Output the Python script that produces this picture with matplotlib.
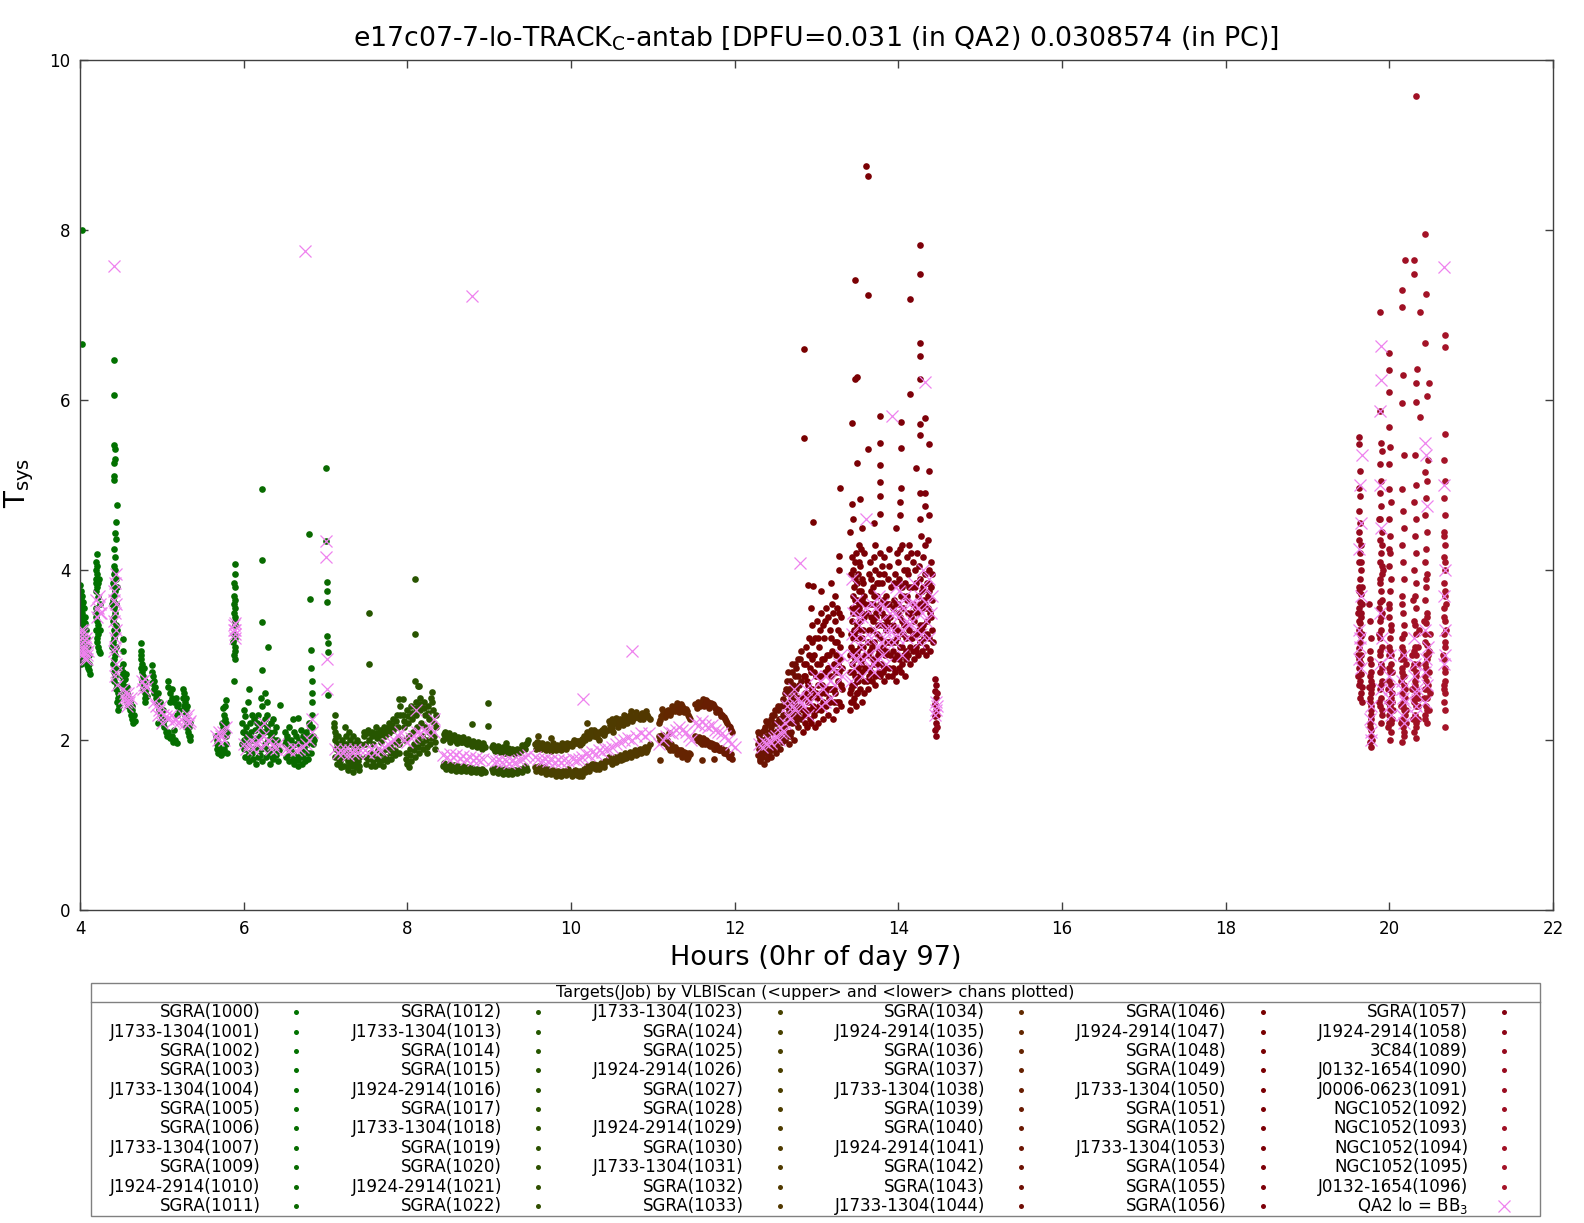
import numpy as np
import matplotlib
matplotlib.use("Agg")
import matplotlib.pyplot as plt
from matplotlib.lines import Line2D
from matplotlib.patches import Rectangle

# ---------------- data (hours, Tsys) ----------------
scan_labels = [
    "SGRA(1000)", "J1733-1304(1001)", "SGRA(1002)", "SGRA(1003)", "J1733-1304(1004)", "SGRA(1005)",
    "SGRA(1006)", "J1733-1304(1007)", "SGRA(1009)", "J1924-2914(1010)", "SGRA(1011)",
    "SGRA(1012)", "J1733-1304(1013)", "SGRA(1014)", "SGRA(1015)", "J1924-2914(1016)", "SGRA(1017)",
    "J1733-1304(1018)", "SGRA(1019)", "SGRA(1020)", "J1924-2914(1021)", "SGRA(1022)",
    "J1733-1304(1023)", "SGRA(1024)", "SGRA(1025)", "J1924-2914(1026)", "SGRA(1027)", "SGRA(1028)",
    "J1924-2914(1029)", "SGRA(1030)", "J1733-1304(1031)", "SGRA(1032)", "SGRA(1033)",
    "SGRA(1034)", "J1924-2914(1035)", "SGRA(1036)", "SGRA(1037)", "J1733-1304(1038)", "SGRA(1039)",
    "SGRA(1040)", "J1924-2914(1041)", "SGRA(1042)", "SGRA(1043)", "J1733-1304(1044)",
    "SGRA(1046)", "J1924-2914(1047)", "SGRA(1048)", "SGRA(1049)", "J1733-1304(1050)", "SGRA(1051)",
    "SGRA(1052)", "J1733-1304(1053)", "SGRA(1054)", "SGRA(1055)", "SGRA(1056)",
    "SGRA(1057)", "J1924-2914(1058)", "3C84(1089)", "J0132-1654(1090)", "J0006-0623(1091)",
    "NGC1052(1092)", "NGC1052(1093)", "NGC1052(1094)", "NGC1052(1095)", "J0132-1654(1096)",
]
qa2_label = "QA2 lo = BB$_3$"

scan_start = [
    4.00, 4.16, 4.34, 4.49, 4.70, 4.86, 5.24, 5.83, 5.95, 6.46, 6.95,
    7.08, 7.27, 7.45, 7.70, 7.93, 8.16, 8.40, 8.68, 9.00, 9.25, 9.52,
    9.53, 9.65, 9.78, 9.92, 10.05, 10.18, 10.30, 10.43, 10.57, 10.70, 10.85,
    11.00, 11.15, 11.30, 11.47, 11.62, 11.78, 11.92, 12.25, 12.45, 12.60, 12.72,
    12.82, 12.98, 13.12, 13.35, 13.50, 13.62, 13.76, 13.90, 14.03, 14.15, 14.28,
    14.43, 14.47, 19.50, 19.72, 19.84, 19.95, 20.10, 20.25, 20.40, 20.60,
]

pc_early = [
    (4.005,3.82),(4.01,3.75),(4.01,3.65),(4.015,3.55),(4.02,3.70),(4.02,3.45),(4.025,3.60),(4.03,3.50),
    (4.03,3.35),(4.035,3.62),(4.04,3.40),(4.04,3.25),(4.045,3.55),(4.05,3.30),(4.05,3.15),(4.055,3.45),
    (4.06,3.20),(4.06,3.05),(4.065,3.38),(4.07,3.10),(4.07,2.98),(4.075,3.30),(4.08,3.00),(4.085,2.92),
    (4.09,3.20),(4.09,2.88),(4.095,3.10),(4.10,2.85),(4.105,3.00),(4.11,2.82),(4.115,2.90),(4.12,2.78),
    (4.005,2.95),(4.01,3.05),(4.005,3.12),(4.015,2.90),(4.02,3.00),(4.02,8.00),(4.02,6.66),
    (4.21,4.19),(4.20,4.10),(4.21,4.05),(4.20,4.00),(4.21,3.95),(4.20,3.90),(4.22,3.85),(4.21,3.80),
    (4.20,3.75),(4.22,3.68),(4.19,3.50),(4.20,3.45),(4.21,3.40),(4.22,3.35),(4.20,3.30),(4.21,3.20),
    (4.22,3.25),(4.21,3.15),(4.22,3.10),(4.20,3.55),(4.23,3.05),(4.25,3.02),(4.24,3.60),(4.23,3.90),
    (4.19,3.85),(4.24,3.30),
    (4.41,6.47),(4.42,6.06),(4.42,5.47),(4.43,5.42),(4.43,5.31),(4.42,5.26),(4.41,5.11),(4.42,5.06),
    (4.45,4.76),(4.44,4.56),(4.43,4.43),(4.44,4.37),(4.42,4.25),(4.43,4.15),(4.41,4.05),(4.43,4.00),
    (4.42,3.95),(4.44,3.90),(4.40,3.85),(4.41,3.80),(4.43,3.75),(4.42,3.70),(4.40,3.65),(4.44,3.60),
    (4.41,3.55),(4.43,3.50),(4.42,3.45),(4.40,3.40),(4.44,3.35),(4.41,3.30),(4.43,3.25),(4.42,3.20),
    (4.40,3.15),(4.44,3.10),(4.41,3.05),(4.43,3.00),(4.42,2.95),(4.40,2.90),(4.44,2.85),(4.41,2.80),
    (4.43,2.75),(4.42,2.70),(4.45,2.65),(4.44,2.60),(4.46,2.55),(4.47,2.50),(4.45,2.45),(4.48,2.40),
    (4.46,2.35),(4.39,3.60),(4.39,3.10),(4.45,3.30),(4.45,3.80),
    (4.52,3.19),(4.53,3.05),(4.50,2.85),(4.51,2.75),(4.52,2.80),(4.52,2.65),(4.53,2.70),(4.54,2.60),
    (4.55,2.72),(4.55,2.55),(4.56,2.50),(4.57,2.62),(4.58,2.45),(4.58,2.55),(4.59,2.40),(4.60,2.50),
    (4.61,2.35),(4.61,2.45),(4.62,2.30),(4.63,2.40),(4.64,2.25),(4.64,2.35),(4.65,2.20),(4.66,2.30),
    (4.67,2.22),(4.53,2.90),(4.56,2.78),
    (4.74,3.14),(4.75,3.05),(4.74,3.00),(4.75,2.95),(4.76,2.90),(4.75,2.85),(4.76,2.80),(4.77,2.75),
    (4.76,2.70),(4.78,2.65),(4.77,2.60),(4.79,2.55),(4.80,2.50),(4.78,2.85),(4.79,2.70),(4.81,2.60),
    (4.82,2.52),(4.80,2.45),
    (4.88,2.88),(4.88,2.80),(4.89,2.75),(4.88,2.67),(4.90,2.60),(4.90,2.70),(4.91,2.55),(4.92,2.62),
    (4.93,2.50),(4.94,2.45),(4.95,2.55),(4.96,2.40),(4.97,2.35),(4.98,2.45),(4.99,2.30),(5.00,2.25),
    (5.01,2.35),(5.02,2.20),(5.03,2.15),(5.04,2.25),(5.05,2.10),(5.06,2.05),(5.08,2.10),(5.10,2.02),
    (5.12,2.05),(5.14,1.98),(5.16,2.00),(5.18,1.97),(5.07,2.70),(5.08,2.62),(5.10,2.55),(5.12,2.60),
    (5.13,2.50),(5.15,2.45),(5.17,2.50),(5.18,2.40),(5.20,2.42),(5.21,2.35),(5.19,2.30),(5.10,2.45),
    (5.15,2.12),(4.95,2.20),
    (5.26,2.60),(5.27,2.55),(5.26,2.50),(5.28,2.45),(5.27,2.40),(5.29,2.35),(5.28,2.30),(5.30,2.25),
    (5.31,2.20),(5.30,2.15),(5.32,2.10),(5.33,2.05),(5.34,2.00),(5.35,2.05),(5.33,2.15),(5.31,2.40),
    (5.35,2.20),(5.29,2.50),
    (5.66,2.05),(5.67,2.00),(5.68,1.95),(5.67,1.90),(5.69,1.85),(5.70,1.92),(5.71,1.88),(5.72,1.82),
    (5.73,2.10),(5.74,2.20),(5.75,2.15),(5.76,2.30),(5.77,2.25),(5.75,2.38),(5.78,2.47),(5.77,2.40),
    (5.79,2.20),(5.80,2.10),(5.78,1.95),(5.80,1.85),(5.76,1.90),(5.79,2.05),(5.74,1.85),
    (5.89,4.07),(5.88,3.85),(5.89,3.80),(5.88,3.70),(5.90,3.65),(5.89,3.55),(5.88,3.50),(5.90,3.45),
    (5.89,3.35),(5.88,3.25),(5.90,3.20),(5.89,3.10),(5.90,3.05),(5.88,3.00),(5.89,2.95),(5.90,3.40),
    (5.88,2.69),(5.87,3.15),(5.90,3.95),(5.88,3.60),
]

pc_morning = [
    (5.98,2.20),(5.99,2.10),(6.00,2.00),(6.01,1.90),(6.02,1.80),(6.03,2.15),(6.04,2.05),(6.05,1.95),
    (6.06,1.85),(6.07,1.75),(6.08,2.20),(6.09,2.10),(6.10,2.00),(6.11,1.90),(6.12,1.78),(6.13,2.25),
    (6.14,2.12),(6.15,2.02),(6.16,1.92),(6.17,1.80),(6.18,2.30),(6.19,2.15),(6.20,2.05),(6.21,1.90),
    (6.22,1.75),(6.23,2.40),(6.24,2.20),(6.25,2.10),(6.26,1.95),(6.27,1.80),(6.28,2.30),(6.29,2.15),
    (6.30,2.00),(6.31,1.85),(6.32,1.72),(6.33,2.20),(6.34,2.05),(6.35,1.90),(6.36,1.78),(6.37,2.10),
    (6.38,1.95),(6.39,1.82),(6.40,2.15),(6.41,2.00),(6.42,1.75),(6.43,1.88),(6.00,2.35),(6.05,2.45),
    (6.10,2.30),(6.21,2.50),(6.26,2.55),(6.29,2.45),(6.02,2.28),(6.15,1.72),(6.36,2.25),
    (6.23,4.95),(6.23,4.12),(6.23,3.39),(6.23,2.82),(6.30,3.09),(6.07,2.60),(6.45,2.41),
    (6.50,2.10),(6.51,1.95),(6.52,1.80),(6.53,2.05),(6.55,1.90),(6.56,1.75),(6.58,2.00),(6.60,1.85),
    (6.61,1.72),(6.63,1.95),(6.65,1.80),(6.66,1.70),(6.68,2.00),(6.70,1.85),(6.71,1.72),(6.72,2.05),
    (6.74,1.90),(6.75,1.75),(6.76,2.10),(6.78,1.95),(6.79,1.78),(6.80,2.20),(6.81,2.05),(6.82,1.85),
    (6.83,2.30),(6.84,2.15),(6.85,1.95),(6.84,2.45),(6.83,2.55),(6.86,2.00),(6.56,2.15),(6.62,2.10),
    (6.70,2.12),(6.66,1.95),(6.66,2.26),(6.60,2.25),
    (6.80,4.42),(6.81,3.66),(6.82,3.06),(6.82,2.85),(6.83,2.70),
    (7.01,5.20),(7.01,4.34),(7.02,3.86),(7.02,3.75),(7.02,3.62),(7.02,3.22),(7.03,3.14),(7.03,3.03),
    (7.03,2.53),
    (7.10,2.20),(7.11,2.10),(7.12,2.00),(7.13,1.90),(7.12,1.80),(7.14,1.72),(7.15,2.05),(7.16,1.95),
    (7.17,1.85),(7.18,1.75),(7.19,1.68),(7.20,2.00),(7.21,1.90),(7.22,1.80),(7.23,1.70),(7.24,2.15),
    (7.25,1.95),(7.26,1.85),(7.27,1.75),(7.28,1.65),(7.29,2.10),(7.30,1.95),(7.31,1.82),(7.32,1.70),
    (7.33,1.62),(7.34,2.05),(7.35,1.90),(7.36,1.80),(7.37,1.68),(7.38,2.00),(7.39,1.88),(7.40,1.75),
    (7.41,1.65),(7.42,1.95),(7.11,2.30),
    (7.47,2.10),(7.48,1.95),(7.49,1.80),(7.50,1.72),(7.52,2.12),(7.53,2.00),(7.54,1.85),(7.55,1.70),
    (7.57,2.10),(7.58,1.95),(7.59,1.82),(7.60,1.70),(7.62,2.15),(7.63,2.02),(7.64,1.88),(7.65,1.72),
    (7.67,2.12),(7.68,1.98),(7.69,1.85),(7.70,1.70),(7.72,2.15),(7.73,2.05),(7.74,1.90),(7.75,1.75),
    (7.77,2.20),(7.78,2.08),(7.79,1.92),(7.80,1.78),(7.82,2.25),(7.83,2.12),(7.84,1.98),(7.85,1.82),
    (7.87,2.30),(7.88,2.15),(7.89,2.02),(7.90,1.85),(7.91,2.40),(7.90,2.48),(7.53,3.49),(7.53,2.90),
    (7.95,2.30),(7.96,2.15),(7.97,2.00),(7.98,1.85),(7.99,1.72),(8.00,2.35),(8.01,2.20),(8.02,2.05),
    (8.03,1.90),(8.04,1.75),(8.05,2.40),(8.06,2.25),(8.07,2.10),(8.08,1.95),(8.09,1.80),(8.10,2.45),
    (8.11,2.30),(8.12,2.15),(8.13,2.00),(8.14,1.85),(8.13,2.63),(8.15,2.50),(8.16,2.35),(8.17,2.20),
    (8.18,2.05),(8.19,1.90),(8.20,2.45),(8.21,2.30),(8.22,2.15),(8.23,2.00),(8.24,1.85),(8.25,2.40),
    (8.26,2.25),(8.27,2.10),(8.28,1.95),(8.29,2.50),(8.30,2.57),(8.31,2.35),(8.32,2.20),(8.33,2.05),
    (8.34,1.90),(8.35,2.30),(8.02,1.68),
    (8.09,3.90),(8.09,3.25),(8.09,2.70),(8.14,2.64),(7.95,2.48),
]

pc_morning_fill = [
    (5.985,1.95),(6.015,2.08),(6.045,1.80),(6.075,2.05),(6.105,1.85),(6.135,2.00),(6.165,2.20),
    (6.195,1.82),(6.225,2.10),(6.255,2.25),(6.285,1.90),(6.315,2.10),(6.345,1.80),(6.375,2.00),
    (6.405,1.88),(6.515,2.00),(6.545,1.82),(6.575,1.92),(6.605,1.78),(6.635,2.05),(6.665,1.76),
    (6.695,1.95),(6.725,1.80),(6.755,2.00),(6.785,1.85),(6.815,2.15),(6.845,2.05),
    (7.105,2.15),(7.125,2.05),(7.145,1.95),(7.165,1.78),(7.185,1.70),(7.205,1.95),(7.225,1.85),
    (7.245,2.05),(7.265,1.80),(7.285,1.70),(7.305,2.00),(7.325,1.75),(7.345,1.95),(7.365,1.72),
    (7.385,1.93),(7.405,1.70),(7.415,1.80),
    (7.475,2.05),(7.505,2.08),(7.525,1.78),(7.565,2.05),(7.585,1.75),(7.615,2.08),(7.645,1.78),
    (7.665,2.06),(7.695,1.76),(7.715,2.10),(7.745,1.80),(7.765,2.14),(7.795,1.85),(7.815,2.18),
    (7.845,1.88),(7.865,2.22),(7.895,1.95),(7.905,2.30),
    (7.955,2.22),(7.985,1.78),(8.005,2.28),(8.035,1.82),(8.055,2.32),(8.085,1.88),(8.105,2.38),
    (8.135,1.92),(8.155,2.42),(8.185,1.97),(8.205,2.38),(8.235,1.92),(8.255,2.32),(8.285,2.02),
    (8.305,2.45),(8.335,1.98),(8.345,2.15),
]

pc_midday = [
    (8.43,2.00),(8.46,2.05),(8.49,2.02),(8.52,1.98),(8.55,2.03),(8.58,2.00),(8.61,1.97),(8.64,2.02),
    (8.67,1.98),(8.70,2.00),(8.73,1.95),(8.76,1.98),(8.79,1.93),(8.82,1.96),(8.85,1.92),(8.88,1.95),
    (8.91,1.90),(8.94,1.93),
    (8.43,1.70),(8.46,1.68),(8.49,1.70),(8.52,1.67),(8.55,1.69),(8.58,1.66),(8.61,1.68),(8.64,1.66),
    (8.67,1.68),(8.70,1.65),(8.73,1.67),(8.76,1.65),(8.79,1.67),(8.82,1.64),(8.85,1.66),(8.88,1.64),
    (8.91,1.66),(8.94,1.64),
    (8.46,2.09),(8.79,2.19),(8.99,2.43),(8.99,2.16),
    (9.03,1.92),(9.06,1.90),(9.09,1.88),(9.12,1.91),(9.15,1.88),(9.18,1.90),(9.21,1.87),(9.24,1.89),
    (9.27,1.86),(9.30,1.88),(9.33,1.86),(9.36,1.88),(9.39,1.90),(9.42,1.92),(9.45,1.95),(9.47,2.00),
    (9.03,1.66),(9.06,1.64),(9.09,1.66),(9.12,1.63),(9.15,1.65),(9.18,1.63),(9.21,1.65),(9.24,1.62),
    (9.27,1.64),(9.30,1.62),(9.33,1.64),(9.36,1.63),(9.39,1.65),(9.42,1.66),(9.45,1.68),(9.20,1.96),
    (9.56,1.95),(9.59,1.98),(9.62,1.93),(9.65,1.96),(9.68,1.92),(9.71,1.95),(9.74,1.90),(9.77,1.93),
    (9.80,1.90),(9.83,1.94),(9.86,1.92),(9.89,1.96),(9.92,1.93),(9.95,1.97),(9.98,1.95),(9.60,2.05),
    (9.75,2.02),
    (9.56,1.68),(9.59,1.65),(9.62,1.67),(9.65,1.63),(9.68,1.66),(9.71,1.62),(9.74,1.64),(9.77,1.61),
    (9.80,1.63),(9.83,1.60),(9.86,1.62),(9.89,1.60),(9.92,1.62),(9.95,1.64),(9.98,1.61),
    (10.01,1.97),(10.04,2.00),(10.07,1.96),(10.10,1.99),(10.13,1.97),(10.16,2.05),(10.19,2.10),
    (10.22,2.02),(10.25,2.12),(10.28,2.05),(10.31,2.10),(10.34,2.00),(10.37,2.08),(10.40,2.14),
    (10.42,2.10),(10.20,2.20),
    (10.01,1.62),(10.04,1.60),(10.07,1.63),(10.10,1.58),(10.13,1.62),(10.16,1.66),(10.19,1.70),
    (10.22,1.64),(10.25,1.68),(10.28,1.72),(10.31,1.66),(10.34,1.70),(10.37,1.73),(10.40,1.68),
    (10.42,1.75),
    (10.45,2.12),(10.48,2.18),(10.51,2.10),(10.54,2.20),(10.57,2.15),(10.60,2.25),(10.63,2.18),
    (10.66,2.28),(10.69,2.20),(10.72,2.30),(10.75,2.22),(10.78,2.28),(10.81,2.30),(10.84,2.25),
    (10.87,2.32),(10.90,2.28),(10.93,2.30),(10.96,2.25),(10.50,2.25),
    (10.45,1.75),(10.48,1.78),(10.51,1.74),(10.54,1.80),(10.57,1.76),(10.60,1.82),(10.63,1.78),
    (10.66,1.85),(10.69,1.80),(10.72,1.86),(10.75,1.82),(10.78,1.88),(10.81,1.84),(10.84,1.90),
    (10.87,1.86),(10.90,1.92),(10.93,1.88),(10.96,1.95),
    (11.08,2.20),(11.10,2.28),(11.13,2.32),(11.16,2.30),(11.19,2.35),(11.22,2.33),(11.25,2.38),
    (11.28,2.40),(11.31,2.37),(11.34,2.42),(11.37,2.38),(11.40,2.36),(11.43,2.30),(11.46,2.25),
    (11.08,2.05),(11.10,1.98),(11.13,2.02),(11.16,1.95),(11.19,1.92),(11.22,1.95),(11.25,1.88),
    (11.28,1.90),(11.31,1.85),(11.34,1.88),(11.37,1.82),(11.40,1.85),(11.43,1.80),(11.46,1.83),
    (11.09,1.76),(11.20,2.08),
    (11.52,2.42),(11.55,2.45),(11.58,2.40),(11.61,2.48),(11.64,2.42),(11.67,2.45),(11.70,2.40),
    (11.73,2.42),(11.76,2.38),(11.79,2.36),(11.82,2.32),(11.85,2.30),(11.88,2.25),(11.91,2.20),
    (11.94,2.15),(11.97,2.10),
    (11.52,2.05),(11.55,2.00),(11.58,1.98),(11.61,2.02),(11.64,1.95),(11.67,1.98),(11.70,1.93),
    (11.73,1.95),(11.76,1.90),(11.79,1.92),(11.82,1.88),(11.85,1.90),(11.88,1.86),(11.91,1.84),
    (11.94,1.80),(11.97,1.78),(11.60,1.76),(11.75,1.78),
]

pc_midday_fill = [
    (8.445,2.07),(8.475,2.03),(8.505,2.08),(8.535,2.02),(8.565,2.06),(8.595,1.99),(8.625,2.04),
    (8.655,1.98),(8.685,2.03),(8.715,1.97),(8.745,2.01),(8.775,1.96),(8.805,1.99),(8.835,1.95),
    (8.865,1.98),(8.895,1.93),(8.925,1.96),(8.955,1.92),
    (8.445,1.73),(8.475,1.66),(8.505,1.72),(8.535,1.65),(8.565,1.71),(8.595,1.64),(8.625,1.70),
    (8.655,1.63),(8.685,1.69),(8.715,1.63),(8.745,1.68),(8.775,1.62),(8.805,1.66),(8.835,1.62),
    (8.865,1.65),(8.895,1.61),(8.925,1.64),(8.955,1.62),
    (9.045,1.94),(9.075,1.87),(9.105,1.93),(9.135,1.86),(9.165,1.92),(9.195,1.85),(9.225,1.91),
    (9.255,1.85),(9.285,1.90),(9.315,1.84),(9.345,1.90),(9.375,1.86),(9.405,1.94),(9.435,1.90),
    (9.465,1.97),
    (9.045,1.62),(9.075,1.67),(9.105,1.61),(9.135,1.66),(9.165,1.60),(9.195,1.66),(9.225,1.60),
    (9.255,1.65),(9.285,1.60),(9.315,1.65),(9.345,1.61),(9.375,1.66),(9.405,1.62),(9.435,1.69),
    (9.465,1.65),
    (9.575,1.90),(9.605,1.96),(9.635,1.89),(9.665,1.93),(9.695,1.88),(9.725,1.92),(9.755,1.87),
    (9.785,1.96),(9.815,1.88),(9.845,1.91),(9.875,1.88),(9.905,1.92),(9.935,1.89),(9.965,1.93),
    (9.575,1.64),(9.605,1.70),(9.635,1.62),(9.665,1.68),(9.695,1.60),(9.725,1.66),(9.755,1.60),
    (9.785,1.65),(9.815,1.58),(9.845,1.64),(9.875,1.58),(9.905,1.64),(9.935,1.59),(9.965,1.66),
    (10.015,1.93),(10.045,1.96),(10.075,1.99),(10.105,1.94),(10.135,2.01),(10.165,2.00),
    (10.195,2.04),(10.225,2.08),(10.255,2.06),(10.285,2.12),(10.315,2.04),(10.345,2.10),
    (10.375,2.12),(10.405,2.06),
    (10.015,1.58),(10.045,1.65),(10.075,1.59),(10.105,1.64),(10.135,1.58),(10.165,1.62),
    (10.195,1.66),(10.225,1.69),(10.255,1.72),(10.285,1.67),(10.315,1.71),(10.345,1.66),
    (10.375,1.69),(10.405,1.72),
    (10.465,2.22),(10.495,2.14),(10.525,2.20),(10.555,2.26),(10.585,2.20),(10.615,2.22),
    (10.645,2.30),(10.675,2.24),(10.705,2.26),(10.735,2.34),(10.765,2.26),(10.795,2.33),
    (10.825,2.26),(10.855,2.30),(10.885,2.25),(10.915,2.34),(10.945,2.27),
    (10.465,1.80),(10.495,1.72),(10.525,1.78),(10.555,1.74),(10.585,1.80),(10.615,1.77),
    (10.645,1.82),(10.675,1.79),(10.705,1.84),(10.735,1.80),(10.765,1.86),(10.795,1.82),
    (10.825,1.88),(10.855,1.85),(10.885,1.90),(10.915,1.86),(10.945,1.92),
    (11.09,2.24),(11.115,2.36),(11.145,2.27),(11.175,2.34),(11.205,2.30),(11.235,2.40),
    (11.265,2.34),(11.295,2.43),(11.325,2.33),(11.355,2.40),(11.385,2.33),(11.415,2.34),
    (11.445,2.27),
    (11.09,2.00),(11.115,2.06),(11.145,1.97),(11.175,2.00),(11.205,1.88),(11.235,1.90),
    (11.265,1.92),(11.295,1.84),(11.325,1.88),(11.355,1.80),(11.385,1.86),(11.415,1.78),
    (11.445,1.85),
    (11.535,2.38),(11.565,2.42),(11.595,2.45),(11.625,2.40),(11.655,2.47),(11.685,2.38),
    (11.715,2.44),(11.745,2.40),(11.775,2.33),(11.805,2.35),(11.835,2.28),(11.865,2.27),
    (11.895,2.22),(11.925,2.17),(11.955,2.12),
    (11.535,2.00),(11.565,2.04),(11.595,1.95),(11.625,1.98),(11.655,2.00),(11.685,1.94),
    (11.715,1.96),(11.745,1.90),(11.775,1.94),(11.805,1.88),(11.835,1.91),(11.865,1.85),
    (11.895,1.88),(11.925,1.80),(11.955,1.83),
]

pc_afternoon = [
    (12.28,1.95),(12.29,1.82),(12.30,2.05),(12.31,1.75),(12.32,1.90),(12.33,2.10),(12.34,1.80),
    (12.35,2.00),(12.36,1.72),(12.37,2.15),(12.38,1.88),(12.39,1.78),(12.40,2.05),(12.41,2.20),
    (12.42,1.85),(12.43,1.95),(12.44,2.25),(12.45,1.80),(12.46,2.10),(12.47,1.90),(12.48,2.30),
    (12.49,2.00),(12.50,1.85),(12.51,2.20),(12.52,1.95),(12.53,2.35),(12.54,2.05),(12.55,1.90),
    (12.56,2.25),(12.57,2.10),(12.58,1.98),(12.59,2.30),(12.60,2.15),
    (12.61,2.40),(12.62,2.00),(12.63,2.60),(12.64,2.20),(12.65,2.80),(12.66,1.95),(12.67,2.45),
    (12.68,2.70),(12.69,2.10),(12.70,2.90),(12.71,2.35),(12.72,2.55),(12.73,2.00),(12.74,2.75),
    (12.75,2.25),(12.76,2.50),(12.77,2.95),(12.78,2.15),(12.79,2.65),(12.80,2.40),(12.81,3.05),
    (12.62,2.30),(12.66,2.35),(12.70,2.20),(12.74,2.40),(12.78,2.30),(12.64,2.55),(12.69,2.60),
    (12.75,2.85),
    (12.83,2.10),(12.84,2.50),(12.85,2.90),(12.86,2.30),(12.87,3.10),(12.88,2.70),(12.89,2.15),
    (12.90,2.45),(12.91,3.20),(12.92,2.85),(12.93,2.20),(12.94,2.60),(12.95,3.35),(12.96,2.40),
    (12.97,3.00),(12.98,2.15),(12.99,2.75),(13.00,3.40),(13.01,2.50),(13.02,2.20),(13.03,3.10),
    (13.04,2.90),(13.05,2.35),(13.06,3.50),(13.07,2.65),(13.08,2.25),(13.09,3.20),(13.10,2.80),
    (13.11,2.40),(13.12,3.55),(13.13,2.60),(13.14,2.30),(13.15,3.00),(13.16,3.30),(13.17,2.45),
    (13.18,2.75),(13.19,3.60),(13.20,2.25),(13.21,2.90),(13.22,3.40),(13.23,2.55),(13.24,2.35),
    (13.25,3.15),(13.26,2.70),(13.27,3.50),(13.28,2.45),(13.29,2.95),(13.30,3.25),(13.31,2.60),
    (12.88,2.55),(12.94,2.95),(12.99,2.35),(13.05,2.75),(13.10,2.55),(13.16,2.60),(13.21,2.45),
    (13.26,2.90),(13.30,2.40),(12.86,2.75),(12.92,2.35),(13.02,2.65),(13.14,2.85),(13.24,3.00),
    (12.85,6.60),(12.85,5.55),(12.96,4.57),(12.90,3.82),(12.96,3.81),(12.93,3.55),(13.29,4.96),
    (13.28,4.16),(13.05,3.75),(13.18,3.85),(13.22,3.70),(13.27,4.00),
    (13.41,2.35),(13.42,2.60),(13.43,2.90),(13.44,3.20),(13.45,3.50),(13.46,3.80),(13.47,4.10),
    (13.41,2.80),(13.42,3.10),(13.43,3.40),(13.44,3.70),(13.45,4.00),(13.46,2.50),(13.47,2.75),
    (13.48,3.05),(13.49,3.35),(13.50,3.65),(13.51,3.95),(13.52,4.30),(13.48,2.40),(13.49,2.70),
    (13.50,3.00),(13.51,3.30),(13.52,3.60),(13.53,2.60),(13.54,2.90),(13.55,3.20),(13.56,3.50),
    (13.57,3.85),(13.58,4.20),(13.53,3.40),(13.54,3.75),(13.55,2.45),(13.56,2.80),(13.57,3.10),
    (13.58,2.70),(13.59,3.00),(13.59,3.60),(13.44,2.45),(13.50,2.55),(13.42,3.95),(13.47,3.55),
    (13.53,4.05),(13.46,3.25),(13.51,2.85),(13.43,2.65),(13.45,3.05),(13.49,3.85),(13.55,3.65),
    (13.43,5.73),(13.47,7.41),(13.47,6.25),(13.50,6.27),(13.50,5.26),(13.53,4.84),(13.43,4.78),
    (13.60,8.75),(13.63,8.64),(13.63,7.24),(13.63,5.42),(13.45,4.60),(13.55,4.50),(13.41,4.45),
    (13.62,2.70),(13.63,3.00),(13.64,3.30),(13.65,3.60),(13.66,3.90),(13.67,2.80),(13.68,3.10),
    (13.69,3.40),(13.70,3.70),(13.71,4.00),(13.72,2.65),(13.73,2.95),(13.74,3.25),(13.75,3.55),
    (13.76,3.85),(13.77,4.20),(13.78,2.75),(13.79,3.05),(13.80,3.35),(13.81,3.65),(13.82,3.95),
    (13.83,2.70),(13.84,3.00),(13.85,3.30),(13.86,3.60),(13.87,3.90),(13.88,2.85),(13.89,3.15),
    (13.90,3.45),(13.63,2.60),(13.66,3.45),(13.70,2.90),(13.74,3.70),(13.78,3.20),(13.82,2.85),
    (13.86,3.15),(13.65,4.10),(13.72,4.30),(13.80,4.05),(13.88,4.25),(13.68,2.70),(13.76,2.80),
    (13.84,3.45),(13.75,3.00),(13.69,3.80),(13.64,2.85),(13.73,3.45),(13.81,2.80),(13.87,3.35),
    (13.77,5.81),(13.77,5.50),(13.77,5.24),(13.78,5.04),(13.77,4.87),(13.77,4.66),(13.70,4.55),
    (13.92,2.75),(13.93,3.05),(13.94,3.35),(13.95,3.65),(13.96,3.95),(13.97,2.70),(13.98,3.00),
    (13.99,3.30),(14.00,3.60),(14.01,3.90),(14.02,4.25),(14.03,2.80),(14.04,3.10),(14.05,3.40),
    (14.06,3.70),(14.07,4.00),(14.08,2.75),(14.09,3.05),(14.10,3.35),(14.11,3.65),(14.12,3.95),
    (14.13,4.30),(14.14,2.90),(14.15,3.20),(13.94,2.85),(13.99,3.50),(14.04,3.80),(14.09,2.95),
    (14.12,3.50),(13.96,3.15),(14.01,2.85),(14.06,3.25),(14.00,4.10),(14.10,4.15),(13.95,3.85),
    (14.03,5.74),(14.03,5.43),(14.03,4.96),(14.02,4.80),(14.02,4.65),(14.14,7.19),(14.14,6.07),
    (13.97,4.50),
    (14.16,3.50),(14.17,3.80),(14.18,4.10),(14.19,2.95),(14.20,3.25),(14.21,3.55),(14.22,3.85),
    (14.23,4.20),(14.24,3.00),(14.25,3.30),(14.26,3.60),(14.27,3.90),(14.28,4.40),(14.29,3.05),
    (14.30,3.35),(14.31,3.65),(14.32,3.95),(14.33,4.30),(14.34,3.10),(14.35,3.40),(14.36,3.70),
    (14.37,4.00),(14.38,3.20),(14.39,3.50),(14.40,3.80),(14.41,3.30),(14.18,3.25),(14.22,3.05),
    (14.26,3.35),(14.30,3.80),(14.34,3.55),(14.38,3.85),(14.20,4.00),(14.36,4.35),(14.41,3.95),
    (14.26,7.82),(14.26,7.48),(14.26,6.67),(14.26,6.52),(14.26,6.25),(14.26,5.72),(14.26,5.59),
    (14.22,5.20),(14.33,5.79),(14.38,5.48),(14.38,5.17),(14.26,4.90),(14.33,4.90),(14.27,4.60),
    (14.37,4.65),(14.32,4.75),
    (14.45,2.72),(14.46,2.65),(14.45,2.58),(14.46,2.50),(14.45,2.42),(14.46,2.35),(14.45,2.28),
    (14.46,2.20),(14.45,2.12),(14.46,2.05),(14.47,2.55),(14.47,2.30),(14.47,2.15),
]

pc_afternoon_fill = [
    (12.285,2.10),(12.295,1.90),(12.305,1.78),(12.315,2.00),(12.325,1.85),(12.345,1.95),
    (12.355,2.12),(12.365,1.85),(12.375,2.00),(12.385,2.22),(12.395,1.92),(12.405,1.82),
    (12.415,2.10),(12.425,2.00),(12.435,1.88),(12.445,2.15),(12.455,2.30),(12.465,1.98),
    (12.475,2.20),(12.485,1.92),(12.495,2.35),(12.505,2.10),(12.515,1.98),(12.525,2.40),
    (12.535,2.12),(12.545,2.25),(12.555,2.02),(12.565,2.40),(12.575,2.20),(12.585,2.48),
    (12.595,2.05),(12.605,2.30),(12.615,2.55),(12.625,2.10),(12.635,2.40),(12.645,2.70),
    (12.655,2.25),(12.665,2.60),(12.675,2.05),(12.685,2.50),(12.695,2.80),(12.705,2.30),
    (12.715,2.65),(12.725,2.45),(12.735,2.90),(12.745,2.20),(12.755,2.60),(12.765,2.35),
    (12.775,2.75),(12.785,2.50),(12.795,2.95),(12.805,2.25),(12.815,2.70),
    (12.835,2.35),(12.845,2.75),(12.855,2.20),(12.865,2.55),(12.875,2.90),(12.885,2.35),
    (12.895,2.65),(12.905,3.00),(12.915,2.50),(12.925,2.25),(12.935,2.80),(12.945,3.15),
    (12.955,2.55),(12.965,2.80),(12.975,2.30),(12.985,3.20),(12.995,2.55),(13.005,2.90),
    (13.015,3.20),(13.025,2.40),(13.035,2.75),(13.045,3.30),(13.055,2.55),(13.065,2.95),
    (13.075,3.35),(13.085,2.45),(13.095,2.95),(13.105,3.40),(13.115,2.60),(13.125,3.00),
    (13.135,2.85),(13.145,3.45),(13.155,2.50),(13.165,2.85),(13.175,3.20),(13.185,2.60),
    (13.195,3.05),(13.205,3.50),(13.215,2.60),(13.225,3.15),(13.235,2.80),(13.245,3.55),
    (13.255,2.45),(13.265,3.30),(13.275,2.80),(13.285,3.10),(13.295,2.65),(13.305,3.45),
    (13.315,2.85),
    (13.405,2.55),(13.415,3.00),(13.425,3.25),(13.435,3.55),(13.445,2.80),(13.455,3.30),
    (13.465,3.65),(13.475,2.95),(13.485,3.50),(13.495,2.55),(13.505,3.20),(13.515,3.75),
    (13.525,2.75),(13.535,3.10),(13.545,3.50),(13.555,2.95),(13.565,3.30),(13.575,2.55),
    (13.585,3.45),(13.595,2.85),(13.425,2.45),(13.455,2.65),(13.485,4.20),(13.515,4.10),
    (13.545,4.25),(13.575,3.70),(13.465,3.90),(13.495,3.05),(13.525,3.55),(13.555,3.90),
    (13.435,4.15),(13.505,2.70),
    (13.625,3.15),(13.635,3.50),(13.645,2.75),(13.655,3.05),(13.665,3.75),(13.675,3.30),
    (13.685,2.95),(13.695,3.60),(13.705,3.15),(13.715,2.75),(13.725,3.50),(13.735,3.85),
    (13.745,2.90),(13.755,3.35),(13.765,3.05),(13.775,3.60),(13.785,2.90),(13.795,3.50),
    (13.805,3.85),(13.815,3.10),(13.825,3.45),(13.835,2.85),(13.845,3.70),(13.855,3.05),
    (13.865,3.40),(13.875,2.75),(13.885,3.60),(13.895,3.00),(13.905,3.80),(13.645,3.95),
    (13.705,4.15),(13.765,3.95),(13.825,4.15),(13.885,4.05),
    (13.925,3.15),(13.935,3.55),(13.945,2.95),(13.955,3.30),(13.965,2.80),(13.975,3.60),
    (13.985,3.20),(13.995,3.85),(14.005,2.95),(14.015,3.45),(14.025,3.10),(14.035,3.70),
    (14.045,2.90),(14.055,3.55),(14.065,3.00),(14.075,3.35),(14.085,3.85),(14.095,3.20),
    (14.105,3.70),(14.115,3.00),(14.125,3.30),(14.135,3.80),(14.145,3.10),(14.155,3.45),
    (13.985,4.20),(14.045,4.30),(14.105,4.00),(14.155,4.20),
    (14.165,3.20),(14.175,3.05),(14.185,3.60),(14.195,3.40),(14.205,3.80),(14.215,3.10),
    (14.225,3.50),(14.235,3.70),(14.245,3.25),(14.255,4.05),(14.265,3.15),(14.275,3.55),
    (14.285,3.75),(14.295,3.30),(14.305,4.15),(14.315,3.20),(14.325,3.60),(14.335,3.00),
    (14.345,3.85),(14.355,3.25),(14.365,3.55),(14.375,3.75),(14.385,3.05),(14.395,4.10),
    (14.405,3.45),(14.415,3.65),(14.425,3.15),
]

pc_late = [
    (19.63,5.57),(19.63,5.48),(19.64,5.17),(19.63,4.96),(19.64,4.87),(19.63,4.70),(19.64,4.55),
    (19.63,4.45),(19.65,4.30),(19.64,4.20),(19.63,4.10),(19.65,4.00),(19.64,3.90),(19.63,3.80),
    (19.65,3.72),(19.64,3.62),(19.63,3.55),(19.65,3.45),(19.64,3.38),(19.63,3.30),(19.65,3.22),
    (19.64,3.15),(19.63,3.08),(19.65,3.00),(19.64,2.92),(19.63,2.85),(19.65,2.78),(19.64,2.70),
    (19.66,2.62),(19.65,2.55),(19.66,2.45),(19.62,3.50),(19.62,3.00),(19.66,3.25),(19.66,3.60),
    (19.76,3.40),(19.77,3.20),(19.76,3.05),(19.77,2.90),(19.76,2.75),(19.77,2.60),(19.76,2.50),
    (19.78,2.40),(19.77,2.30),(19.76,2.20),(19.78,2.12),(19.77,2.05),(19.76,1.98),(19.78,1.92),
    (19.77,2.70),(19.78,2.55),(19.75,3.60),(19.78,2.25),
    (19.88,7.03),(19.88,5.87),(19.90,5.50),(19.91,5.40),(19.89,5.25),(19.90,5.05),(19.88,4.90),
    (19.90,4.75),(19.89,4.60),(19.91,4.45),(19.88,4.35),(19.90,4.20),(19.89,4.10),(19.91,3.95),
    (19.88,3.85),(19.90,3.75),(19.89,3.62),(19.91,3.50),(19.88,3.40),(19.90,3.30),(19.89,3.20),
    (19.91,3.10),(19.88,3.00),(19.90,2.90),(19.89,2.80),(19.91,2.70),(19.88,2.60),(19.90,2.50),
    (19.89,2.40),(19.91,2.30),(19.90,2.20),(19.87,3.55),(19.92,4.00),
    (20.00,6.55),(20.00,6.35),(20.00,6.10),(20.00,5.68),(20.01,5.45),(19.99,5.25),(20.00,4.95),
    (20.02,4.80),(20.00,4.60),(20.01,4.40),(19.99,4.25),(20.00,4.05),(20.02,3.90),(20.01,3.75),
    (19.99,3.60),(20.00,3.45),(20.02,3.35),(20.01,3.20),(19.99,3.10),(20.00,3.00),(20.02,2.90),
    (20.01,2.80),(19.99,2.70),(20.00,2.60),(20.02,2.50),(20.01,2.40),(19.99,2.30),(20.00,2.20),
    (20.02,2.10),(20.01,2.00),(20.03,2.55),(20.03,2.25),(19.98,2.45),(20.04,2.35),(20.03,2.80),
    (20.19,7.65),(20.16,7.30),(20.16,7.10),(20.16,5.97),(20.17,6.30),(20.18,5.35),(20.16,4.95),
    (20.17,4.70),(20.18,4.50),(20.16,4.30),(20.17,4.10),(20.18,3.90),(20.16,3.70),(20.17,3.50),
    (20.18,3.35),(20.16,3.20),(20.17,3.05),(20.18,2.95),(20.16,2.85),(20.17,2.75),(20.18,2.65),
    (20.16,2.55),(20.17,2.45),(20.18,2.35),(20.16,2.25),(20.17,2.15),(20.18,2.05),(20.15,1.98),
    (20.19,2.30),(20.19,2.60),(20.14,2.40),(20.20,2.90),(20.14,2.70),(20.20,2.20),(20.15,3.10),
    (20.32,9.58),(20.30,7.65),(20.30,7.48),(20.37,7.03),(20.34,6.37),(20.33,6.20),(20.32,5.98),
    (20.31,5.35),(20.33,5.00),(20.30,4.80),(20.32,4.60),(20.31,4.40),(20.33,4.20),(20.30,4.00),
    (20.32,3.85),(20.31,3.70),(20.33,3.55),(20.30,3.40),(20.32,3.25),(20.31,3.10),(20.33,3.00),
    (20.30,2.90),(20.32,2.80),(20.31,2.70),(20.33,2.60),(20.30,2.50),(20.32,2.40),(20.31,2.30),
    (20.33,2.20),(20.30,2.10),(20.32,2.02),(20.35,2.90),(20.35,2.50),(20.28,2.60),(20.36,3.30),
    (20.28,3.00),(20.35,2.25),(20.37,5.80),
    (20.44,7.95),(20.45,7.25),(20.44,6.67),(20.48,6.20),(20.46,6.05),(20.47,5.30),(20.44,5.15),
    (20.46,5.05),(20.45,4.85),(20.44,4.65),(20.46,4.45),(20.45,4.25),(20.44,4.10),(20.46,3.95),
    (20.45,3.80),(20.44,3.65),(20.46,3.50),(20.45,3.38),(20.44,3.25),(20.46,3.12),(20.45,3.00),
    (20.44,2.90),(20.46,2.80),(20.45,2.70),(20.44,2.60),(20.46,2.50),(20.45,2.40),(20.44,2.30),
    (20.46,2.20),(20.43,2.75),(20.47,2.65),(20.48,3.05),(20.42,3.40),(20.48,2.35),(20.50,2.55),
    (20.68,6.77),(20.68,6.62),(20.68,5.60),(20.67,5.30),(20.68,5.05),(20.67,4.85),(20.68,4.65),
    (20.67,4.45),(20.68,4.30),(20.67,4.15),(20.68,4.00),(20.67,3.85),(20.68,3.70),(20.67,3.55),
    (20.68,3.40),(20.67,3.25),(20.68,3.10),(20.67,2.95),(20.68,2.80),(20.67,2.65),(20.68,2.55),
    (20.67,2.45),(20.68,2.15),(20.66,3.00),(20.69,3.60),
]

pc_late_fill = [
    (19.625,2.65),(19.635,2.95),(19.645,3.25),(19.655,3.50),(19.625,3.75),(19.655,4.10),
    (19.645,2.50),(19.635,3.40),(19.655,2.90),(19.625,4.35),(19.660,3.80),(19.620,2.75),
    (19.765,2.15),(19.775,2.35),(19.765,2.45),(19.775,2.80),(19.785,2.00),(19.755,2.62),
    (19.785,2.65),(19.765,2.95),
    (19.875,2.45),(19.895,2.65),(19.905,2.35),(19.885,3.05),(19.915,2.85),(19.875,3.25),
    (19.895,3.45),(19.905,3.65),(19.885,3.90),(19.915,4.30),(19.875,4.60),(19.905,4.05),
    (19.985,2.15),(20.005,2.35),(20.015,2.65),(19.995,2.85),(20.025,2.20),(20.005,3.05),
    (20.015,3.30),(19.995,3.55),(20.025,3.00),(20.035,2.45),(19.985,2.60),(20.005,4.20),
    (20.145,2.20),(20.165,2.40),(20.175,2.60),(20.155,2.80),(20.185,2.10),(20.195,2.50),
    (20.165,3.00),(20.175,3.25),(20.155,3.60),(20.185,2.75),(20.145,2.95),(20.205,2.35),
    (20.285,2.25),(20.305,2.45),(20.315,2.65),(20.295,2.85),(20.325,2.15),(20.335,2.55),
    (20.305,3.05),(20.315,3.35),(20.295,3.65),(20.325,2.75),(20.345,2.40),(20.355,3.10),
    (20.425,2.50),(20.435,2.25),(20.445,2.85),(20.455,2.60),(20.465,2.35),(20.475,3.00),
    (20.435,3.15),(20.455,3.45),(20.465,2.95),(20.445,3.90),(20.485,2.80),(20.495,3.25),
    (20.665,2.60),(20.675,2.85),(20.685,3.15),(20.665,3.45),(20.675,3.75),(20.685,4.10),
    (20.665,4.40),(20.675,2.35),(20.685,2.70),(20.695,3.30),
]

qa2_morning = [
    (4.01,3.30),(4.02,3.25),(4.03,3.20),(4.04,3.15),(4.02,3.10),(4.05,3.05),(4.06,3.10),(4.03,3.00),
    (4.07,3.20),(4.08,3.00),(4.01,3.05),(4.09,2.95),(4.10,3.05),(4.04,3.30),(4.06,2.95),(4.08,3.15),
    (4.20,3.65),(4.22,3.55),(4.24,3.50),(4.21,3.45),(4.25,3.60),(4.23,3.70),(4.26,3.50),
    (4.42,7.58),(4.43,3.85),(4.42,3.75),(4.44,3.60),(4.43,3.50),(4.42,3.40),(4.44,3.30),(4.43,3.20),
    (4.42,3.05),(4.44,2.90),(4.43,2.75),(4.45,2.65),(4.41,3.65),(4.44,3.95),(4.43,3.10),(4.44,2.80),
    (4.52,2.60),(4.54,2.50),(4.56,2.45),(4.58,2.50),(4.60,2.45),(4.55,2.55),(4.57,2.40),(4.62,2.50),
    (4.59,2.55),(4.76,2.70),(4.78,2.65),(4.80,2.72),(4.77,2.60),(4.82,2.62),
    (4.90,2.45),(4.93,2.40),(4.96,2.35),(4.99,2.40),(5.02,2.30),(5.05,2.28),(5.08,2.25),(5.11,2.30),
    (5.14,2.22),(5.17,2.25),(5.20,2.20),(4.95,2.30),(5.00,2.20),
    (5.27,2.28),(5.30,2.25),(5.33,2.20),(5.35,2.22),(5.28,2.20),(5.32,2.30),
    (5.66,2.05),(5.69,2.00),(5.72,2.05),(5.75,2.10),(5.78,2.15),(5.70,2.10),(5.76,2.00),
    (5.88,3.30),(5.89,3.25),(5.90,3.20),(5.88,3.35),(5.90,3.30),(5.89,3.38),
    (6.00,1.95),(6.03,1.90),(6.06,1.95),(6.09,2.00),(6.12,1.90),(6.15,1.95),(6.18,2.00),(6.21,1.92),
    (6.24,2.05),(6.27,1.95),(6.30,2.00),(6.33,1.90),(6.36,1.95),(6.39,1.90),(6.42,1.95),(6.20,2.15),
    (6.25,2.20),
    (6.52,1.90),(6.56,1.88),(6.60,1.92),(6.64,1.88),(6.68,1.90),(6.72,1.92),(6.76,1.95),(6.80,2.00),
    (6.83,2.10),(6.84,2.25),(6.75,7.75),
    (7.01,4.34),(7.01,4.15),(7.02,2.95),(7.02,2.60),
    (7.12,1.90),(7.15,1.85),(7.18,1.88),(7.21,1.85),(7.24,1.90),(7.27,1.82),(7.30,1.88),(7.33,1.85),
    (7.36,1.90),(7.39,1.85),(7.42,1.88),
    (7.48,1.88),(7.52,1.85),(7.56,1.90),(7.60,1.86),(7.64,1.90),(7.68,1.88),(7.72,1.92),(7.76,1.95),
    (7.80,1.98),(7.84,2.00),(7.88,2.05),(7.91,2.10),
    (7.96,2.00),(8.00,1.98),(8.04,2.02),(8.08,2.05),(8.12,2.10),(8.16,2.08),(8.20,2.12),(8.24,2.10),
    (8.28,2.15),(8.32,2.10),(8.10,2.35),(8.33,2.25),
]

qa2_midday = [
    (8.44,1.82),(8.48,1.80),(8.52,1.83),(8.56,1.80),(8.60,1.82),(8.64,1.79),(8.68,1.81),(8.72,1.78),
    (8.76,1.80),(8.80,1.77),(8.84,1.79),(8.88,1.76),(8.92,1.78),(8.79,7.22),
    (9.04,1.77),(9.08,1.75),(9.12,1.76),(9.16,1.74),(9.20,1.75),(9.24,1.73),(9.28,1.75),(9.32,1.74),
    (9.36,1.76),(9.40,1.78),(9.44,1.80),(9.47,1.82),
    (9.56,1.80),(9.60,1.78),(9.64,1.76),(9.68,1.78),(9.72,1.75),(9.76,1.77),(9.80,1.74),(9.84,1.76),
    (9.88,1.74),(9.92,1.76),(9.96,1.75),
    (10.02,1.78),(10.06,1.76),(10.10,1.78),(10.14,1.80),(10.18,1.84),(10.22,1.82),(10.26,1.86),
    (10.30,1.84),(10.34,1.88),(10.38,1.86),(10.42,1.90),(10.15,2.48),
    (10.45,1.90),(10.50,1.92),(10.55,1.95),(10.60,1.98),(10.65,2.00),(10.70,2.02),(10.75,2.00),
    (10.80,2.05),(10.85,2.08),(10.90,2.05),(10.95,2.08),(10.75,3.05),
    (11.08,1.95),(11.12,2.00),(11.16,2.05),(11.20,2.10),(11.24,2.08),(11.28,2.12),(11.32,2.15),
    (11.36,2.12),(11.40,2.10),(11.44,2.05),(11.47,2.00),
    (11.52,2.20),(11.56,2.18),(11.60,2.22),(11.64,2.18),(11.68,2.15),(11.72,2.18),(11.76,2.12),
    (11.80,2.10),(11.84,2.08),(11.88,2.05),(11.92,2.00),(11.96,1.95),(12.00,1.92),
]

qa2_afternoon = [
    (12.30,1.95),(12.33,1.92),(12.36,1.98),(12.39,1.95),(12.42,2.00),(12.45,1.96),(12.48,2.02),
    (12.51,2.05),(12.54,2.00),(12.57,2.08),(12.60,2.10),(12.55,2.15),(12.64,2.40),
    (12.62,2.20),(12.65,2.30),(12.68,2.25),(12.71,2.40),(12.74,2.35),(12.77,2.50),(12.80,2.45),
    (12.67,2.50),(12.73,2.60),
    (12.84,2.40),(12.88,2.50),(12.92,2.45),(12.96,2.60),(13.00,2.55),(13.04,2.70),(13.08,2.60),
    (13.12,2.75),(13.16,2.70),(13.20,2.85),(13.24,2.80),(13.28,2.90),(13.31,2.75),(12.90,2.30),
    (13.06,2.40),(13.18,2.50),(12.80,4.08),(12.87,2.60),(12.98,2.75),(13.10,2.45),(13.22,2.65),
    (13.30,3.00),
    (13.42,2.70),(13.44,3.00),(13.46,2.85),(13.48,3.20),(13.50,2.95),(13.52,3.35),(13.54,3.10),
    (13.56,3.45),(13.58,3.20),(13.45,3.50),(13.50,3.65),(13.55,2.75),(13.43,3.90),(13.60,4.60),
    (13.43,3.25),(13.47,2.95),(13.51,3.45),(13.57,2.95),(13.59,3.55),
    (13.63,3.00),(13.66,3.20),(13.69,2.90),(13.72,3.30),(13.75,3.10),(13.78,3.40),(13.81,3.00),
    (13.84,3.30),(13.87,3.15),(13.90,3.50),(13.68,3.60),(13.76,3.70),(13.85,2.90),(13.92,5.81),
    (13.70,2.80),(13.80,3.60),(13.65,2.85),(13.71,3.55),(13.74,2.95),(13.79,3.15),(13.83,3.55),
    (13.88,3.30),
    (13.93,3.30),(13.96,3.50),(13.99,3.20),(14.02,3.60),(14.05,3.30),(14.08,3.70),(14.11,3.40),
    (14.14,3.60),(13.97,3.80),(14.04,3.00),(14.10,3.20),(14.00,3.45),(13.95,3.15),(14.01,3.75),
    (14.06,3.55),(14.13,3.35),
    (14.17,3.40),(14.20,3.60),(14.23,3.30),(14.26,3.70),(14.29,3.50),(14.32,3.80),(14.35,3.60),
    (14.38,3.90),(14.41,3.70),(14.25,3.15),(14.33,6.21),(14.30,4.00),(14.19,3.85),(14.24,3.55),
    (14.28,3.25),(14.34,3.40),(14.40,3.50),(14.37,3.20),
    (14.46,2.45),(14.46,2.35),(14.45,2.30),(14.47,2.40),
]

qa2_late = [
    (19.63,3.30),(19.64,3.10),(19.63,2.95),(19.65,2.85),(19.64,3.20),(19.66,5.35),(19.64,5.00),
    (19.65,4.55),(19.63,4.25),(19.65,3.70),
    (19.77,2.10),(19.76,2.25),(19.78,2.00),(19.77,2.40),
    (19.90,6.63),(19.90,6.23),(19.89,5.87),(19.89,5.00),(19.90,4.50),(19.88,3.50),(19.91,3.20),
    (19.89,2.90),(19.90,2.60),
    (20.00,2.40),(20.01,2.60),(20.02,2.30),(20.00,2.75),(20.01,3.00),(19.99,2.50),
    (20.16,2.30),(20.17,2.50),(20.18,2.20),(20.16,2.70),(20.19,2.45),(20.15,2.60),(20.18,3.00),
    (20.31,2.30),(20.32,2.55),(20.30,2.75),(20.33,2.40),(20.31,2.90),(20.34,2.60),(20.30,3.20),
    (20.44,5.50),(20.45,5.35),(20.46,4.75),(20.44,3.30),(20.45,2.95),(20.46,2.65),(20.44,2.45),
    (20.47,3.10),(20.43,2.80),
    (20.67,7.57),(20.67,5.00),(20.68,4.00),(20.67,3.70),(20.68,3.00),(20.67,2.90),(20.68,3.30),
]

x_ticks = [4, 6, 8, 10, 12, 14, 16, 18, 20, 22]
y_ticks = [0, 2, 4, 6, 8, 10]

# ---------------- styling ----------------
W, H = 1584, 1223
anchor_idx = [0, 10, 11, 21, 22, 32, 33, 43, 44, 54, 55, 57, 64]
anchor_rgb = [(0, 115, 0), (10, 105, 0), (35, 88, 0), (48, 78, 0), (72, 66, 0), (82, 56, 0),
              (98, 42, 0), (112, 12, 4), (120, 0, 0), (126, 0, 10), (132, 0, 16), (150, 10, 30),
              (165, 20, 40)]


def scan_color(i):
    r = np.interp(i, anchor_idx, [c[0] for c in anchor_rgb]) / 255
    g = np.interp(i, anchor_idx, [c[1] for c in anchor_rgb]) / 255
    b = np.interp(i, anchor_idx, [c[2] for c in anchor_rgb]) / 255
    return (r, g, b)


qa_color = '#ee82ee'
axis_color = '#404040'

fig = plt.figure(figsize=(W / 100, H / 100), dpi=100)
ax = fig.add_axes([80 / W, 1 - 910 / H, (1553 - 80) / W, (910 - 60) / H])

pts = np.array(pc_early + pc_morning + pc_morning_fill + pc_midday + pc_midday_fill
               + pc_afternoon + pc_afternoon_fill + pc_late + pc_late_fill)
scan_of = np.searchsorted(np.array(scan_start), pts[:, 0], side='right') - 1
for i in range(len(scan_labels)):
    sel = scan_of == i
    if sel.any():
        ax.plot(pts[sel, 0], pts[sel, 1], 'o', ms=4.8, mew=0, color=scan_color(i), zorder=2)

qa = np.array(qa2_morning + qa2_midday + qa2_afternoon + qa2_late)
ax.plot(qa[:, 0], qa[:, 1], 'x', ms=8.5, mew=0.9, color=qa_color, zorder=3)

ax.set_xlim(4, 22)
ax.set_ylim(0, 10)
ax.set_xticks(x_ticks)
ax.set_yticks(y_ticks)
ax.tick_params(direction='in', length=6, width=1, top=True, right=True, labelsize=12,
               color=axis_color, pad=7)
for s in ax.spines.values():
    s.set_color(axis_color)
    s.set_linewidth(1)

fig.text(816 / W, 1 - 38 / H,
         'e17c07-7-lo-TRACK$_{\\mathregular{C}}$-antab [DPFU=0.031 (in QA2) 0.0308574 (in PC)]',
         ha='center', va='center', fontsize=19.3)
fig.text(816 / W, 1 - 958 / H, 'Hours (0hr of day 97)', ha='center', va='center', fontsize=19.5)
fig.text(19 / W, 1 - 483 / H, 'T$_{\\mathregular{sys}}$', ha='center', va='center',
         rotation=90, fontsize=20)

# ---------------- legend (drawn like the gnuplot key) ----------------
def fx(x):
    return x / W


def fy(y):
    return 1 - y / H


leg_edge = '#808080'
fig.add_artist(Rectangle((fx(91), fy(1216)), (1540 - 91) / W, (1216 - 983) / H,
                         transform=fig.transFigure, fill=False, ec=leg_edge, lw=1))
fig.add_artist(Line2D([fx(91), fx(1540)], [fy(1002), fy(1002)], transform=fig.transFigure,
                      color=leg_edge, lw=1))
fig.text(fx(815), fy(993), 'Targets(Job) by VLBIScan (<upper> and <lower> chans plotted)',
         ha='center', va='center', fontsize=11.5)

label_right = [260.6, 502.1, 743.5, 985.0, 1226.4, 1468.0]
marker_x = [296, 538, 780, 1021, 1263, 1504]
entries = [(lab, scan_color(i), 'o') for i, lab in enumerate(scan_labels)] + [(qa2_label, qa_color, 'x')]
for k, (lab, col, mk) in enumerate(entries):
    c, r = divmod(k, 11)
    yy = 1012.2 + r * 19.38
    fig.text(fx(label_right[c]), fy(yy), lab, ha='right', va='center', fontsize=12)
    if mk == 'o':
        fig.add_artist(Line2D([fx(marker_x[c])], [fy(yy)], transform=fig.transFigure,
                              marker='o', ms=3.6, mew=0, color=col, ls='none'))
    else:
        fig.add_artist(Line2D([fx(marker_x[c])], [fy(yy)], transform=fig.transFigure,
                              marker='x', ms=8, mew=0.9, color=col, ls='none'))

fig.savefig('out.png', dpi=100)
